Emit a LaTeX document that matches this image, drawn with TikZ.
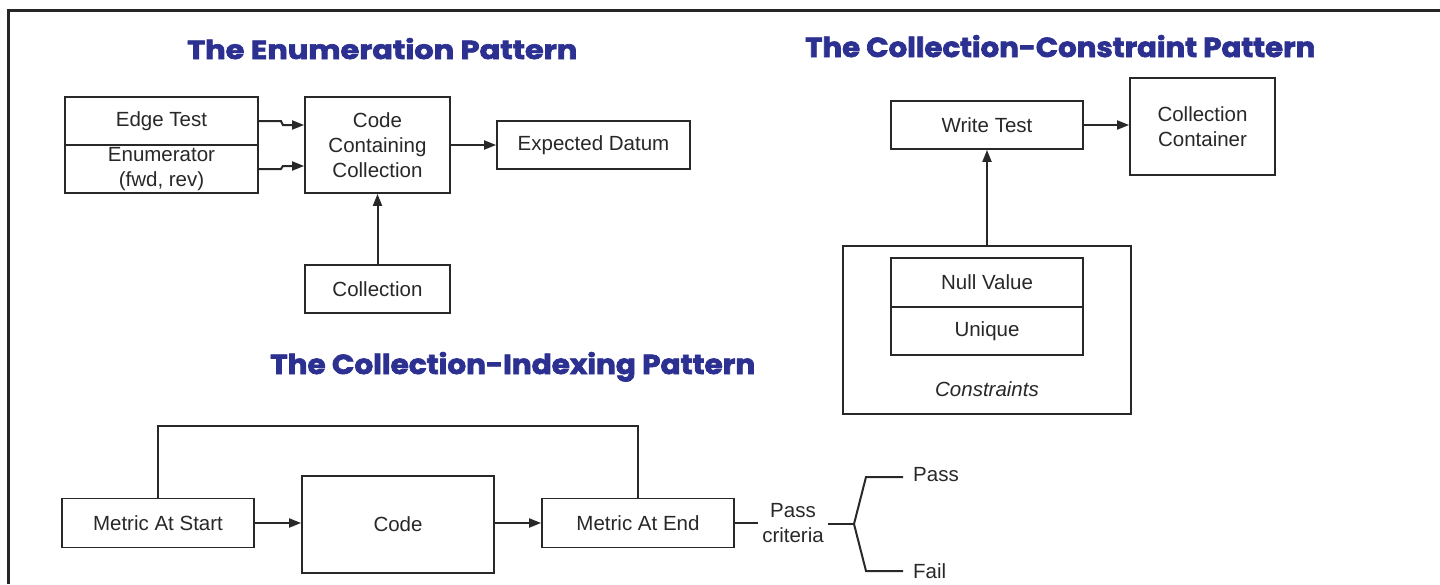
\documentclass[tikz,border=0pt]{standalone}
\usepackage{graphicx}
\usepackage{fontspec}
\setmainfont{Liberation Sans}
\newfontfamily\titlefont{Poppins}[BoldFeatures={FakeBold=2.5}]
\usetikzlibrary{arrows.meta,calc}
\definecolor{ink}{RGB}{40,40,40}
\definecolor{titleblue}{RGB}{44,48,145}

\begin{document}
\begin{tikzpicture}[x=1pt,y=-1pt,
  box/.style={draw=ink, line width=1.8pt, fill=white, inner sep=0pt, text=ink,
    font=\fontsize{20.5}{25}\selectfont, align=center},
  lbl/.style={inner sep=0pt, text=ink, font=\fontsize{20.5}{25}\selectfont, align=center},
  conn/.style={draw=ink, line width=2pt},
  arr/.style={conn, -{Triangle[length=12pt,width=9pt]}},
  title/.style={anchor=base west, inner sep=0pt, text=titleblue}]

\useasboundingbox (0,0) rectangle (1440,584);
% frame
\draw[line width=3pt, draw=black!85] (1440,10) -- (8,10) -- (8,584);

% ---- titles ----
\node[title] (t1) at (187,59)  {\resizebox{390pt}{21pt}{\titlefont\bfseries The Enumeration Pattern}};
\node[title] (t2) at (805,57)  {\resizebox{510pt}{22pt}{\titlefont\bfseries The Collection-Constraint Pattern}};
\node[title] (t3) at (270,374) {\resizebox{485pt}{22pt}{\titlefont\bfseries The Collection-Indexing Pattern}};

% ---- enumeration pattern ----
\node[box, minimum width=193pt, minimum height=48pt] (edge) at (161.5,121) {Edge Test};
\node[box, minimum width=193pt, minimum height=48pt] (enumbox) at (161.5,169) {};
\node[lbl] (enum) at (161.5,169) {Enumerator\\(fwd, rev)};
\node[box, minimum width=145pt, minimum height=96pt] (ccc) at (377.5,145) {Code\\Containing\\Collection};
\node[box, minimum width=193pt, minimum height=48pt] (exp) at (593.5,145) {Expected Datum};
\node[box, minimum width=145pt, minimum height=48pt] (coll) at (377.5,289) {Collection};

\path (edge.east) ++(24,4) coordinate (e1);
\path (enumbox.east) ++(24,-3) coordinate (e2);
\draw[arr] (edge.east) -- ++(22,0) -- (e1) -- (ccc.west |- e1);
\draw[arr] (enumbox.east) -- ++(22,0) -- (e2) -- (ccc.west |- e2);
\draw[arr] (ccc.east) -- (exp.west);
\draw[arr] (coll.north) -- (ccc.south);

% ---- collection-constraint pattern ----
\node[box, minimum width=192pt, minimum height=48pt] (write) at (987,125) {Write Test};
\node[box, minimum width=145pt, minimum height=97pt] (cont) at (1202.5,126.5) {Collection\\Container};
\node[box, minimum width=288pt, minimum height=168pt] (cons) at (987,330) {};
\node[box, minimum width=192pt, minimum height=49pt] (null) at (987,282.5) {Null Value};
\node[box, minimum width=192pt, minimum height=48pt] (uniq) at (987,331) {Unique};
\node[lbl, font=\fontsize{20.5}{25}\selectfont\itshape] (constext) at (987,389) {Constraints};

\draw[arr] (write.east) -- (cont.west |- write.east);
\draw[arr] (cons.north) -- (write.south);

% ---- collection-indexing pattern ----
\node[box, minimum width=192pt, minimum height=49pt] (mstart) at (158,523) {Metric At Start};
\node[box, minimum width=192pt, minimum height=97pt] (code) at (398,524.5) {Code};
\node[box, minimum width=192pt, minimum height=49pt] (mend) at (638,523) {Metric At End};

\draw[conn] (mstart.north) -- ++(0,-72) -| (mend.north);
\draw[arr] (mstart.east) -- (code.west |- mstart.east);
\draw[arr] (code.east |- mend.west) -- (mend.west);

\node[lbl, inner xsep=4pt] (crit) at (793,523) {Pass\\criteria};
\node[lbl, anchor=west] (pass) at (913,475) {Pass};
\node[lbl, anchor=west] (fail) at (913,571) {Fail};
\coordinate (fork) at (854,524);
\coordinate (up) at (866,477);
\coordinate (dn) at (866,571);

\draw[conn] (mend.east) -- (crit.west |- mend.east);
\draw[conn] (crit.east |- fork) -- (fork);
\draw[conn] (fork) -- (up) -- ([xshift=-10pt]pass.west |- up);
\draw[conn] (fork) -- (dn) -- ([xshift=-10pt]fail.west |- dn);
\end{tikzpicture}
\end{document}
